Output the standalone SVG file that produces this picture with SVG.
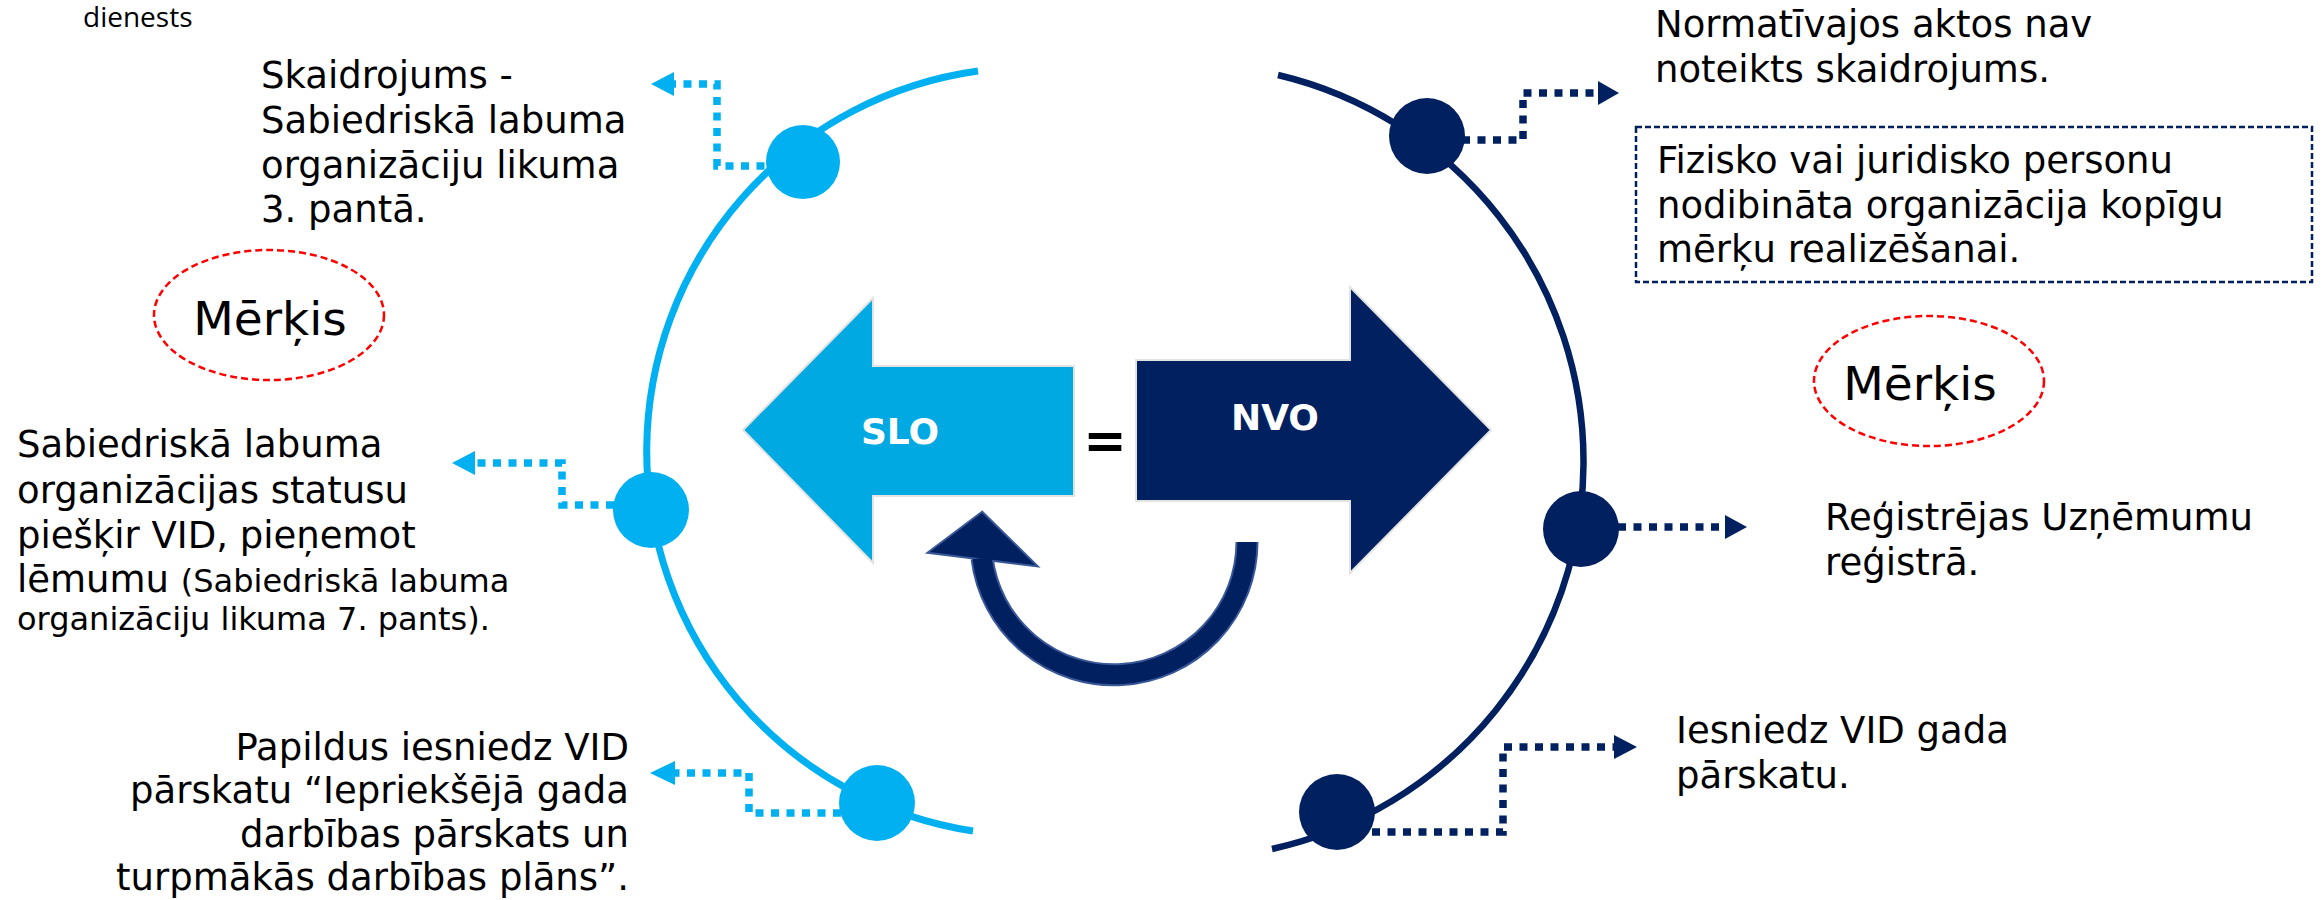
<svg xmlns="http://www.w3.org/2000/svg" width="2323" height="900" viewBox="0 0 2323 900">
<style>
.t{font-family:"DejaVu Sans",Verdana,sans-serif;font-size:37px;fill:#000}
.s{font-size:32px}
.g{font-family:"DejaVu Sans",Verdana,sans-serif;font-size:47px;fill:#000;text-anchor:middle}
.lbl{font-family:"DejaVu Sans",Verdana,sans-serif;font-weight:bold;font-size:36px;fill:#fff;text-anchor:middle}
.cy{fill:none;stroke:#00B0F0;stroke-width:7.5;stroke-dasharray:8 7.5}
.nv{fill:none;stroke:#002060;stroke-width:7.5;stroke-dasharray:8 7.5}
.goal{fill:none;stroke:#FF0000;stroke-width:2.5;stroke-dasharray:7 4}
</style>
<rect width="2323" height="900" fill="#fff"/>
<text x="83" y="27" font-family="'Open Sans',sans-serif" font-size="28" fill="#000">dienests</text>

<g id="arcs">
<path d="M 978 71 A 384 384 0 0 0 973 831" fill="none" stroke="#00B0F0" stroke-width="7"/>
<path d="M 1278 75 A 397 397 0 0 1 1272 849" fill="none" stroke="#002060" stroke-width="6.5"/>
</g>

<g id="slo-arrow">
<polygon points="743,430 873,298 873,366 1074,366 1074,496 873,496 873,563" fill="#00A9E2" stroke="#E3E3E3" stroke-width="2"/>
<text class="lbl" x="900" y="444">SLO</text>
</g>
<g id="equals">
<text x="1105" y="458" font-family="'DejaVu Sans',sans-serif" font-weight="bold" font-size="52" text-anchor="middle" fill="#000">=</text>
</g>
<g id="nvo-arrow">
<polygon points="1136,360 1350,360 1350,287 1491,430 1350,573 1350,501 1136,501" fill="#002060" stroke="#E3E3E3" stroke-width="2"/>
<text class="lbl" x="1275" y="430">NVO</text>
</g>
<g id="cycle-arrow">
<path d="M 1247 542 A 133 133 0 0 1 982 558" fill="none" stroke="#3A5898" stroke-width="23"/>
<polygon points="982,513 930,552 1035,565" fill="#3A5898" stroke="#3A5898" stroke-width="4" stroke-linejoin="miter"/>
<path d="M 1247 542 A 133 133 0 0 1 982 558" fill="none" stroke="#002060" stroke-width="19"/>
<polygon points="982,513 930,552 1035,565" fill="#002060"/>
</g>

<g id="connectors">
<polyline class="cy" points="780,166 717,166 717,84 674,84"/>
<polygon points="651,84 674,72 674,96" fill="#00B0F0"/>
<polyline class="cy" points="614,505 562,505 562,463 475,463"/>
<polygon points="452,463 475,451 475,475" fill="#00B0F0"/>
<polyline class="cy" points="841,813 749,813 749,773 675,773"/>
<polygon points="650,773 675,761 675,785" fill="#00B0F0"/>
<polyline class="nv" points="1462,140 1523,140 1523,93 1598,93"/>
<polygon points="1619,93 1598,81 1598,105" fill="#002060"/>
<polyline class="nv" points="1618,527 1725,527"/>
<polygon points="1747,527 1725,515 1725,539" fill="#002060"/>
<polyline class="nv" points="1372,832 1503,832 1503,747 1614,747"/>
<polygon points="1637,747 1614,735 1614,759" fill="#002060"/>
</g>

<g id="dot-slo-1"><circle cx="803" cy="162" r="37" fill="#00B0F0"/></g>
<g id="dot-slo-2"><circle cx="651" cy="510" r="38" fill="#00B0F0"/></g>
<g id="dot-slo-3"><circle cx="877" cy="803" r="38" fill="#00B0F0"/></g>
<g id="dot-nvo-1"><circle cx="1427" cy="136" r="38" fill="#002060"/></g>
<g id="dot-nvo-2"><circle cx="1581" cy="529" r="38" fill="#002060"/></g>
<g id="dot-nvo-3"><circle cx="1337" cy="812" r="38" fill="#002060"/></g>

<g id="goal-left">
<ellipse class="goal" cx="269" cy="315" rx="115" ry="65"/>
<text class="g" x="270" y="335">Mērķis</text>
</g>
<g id="goal-right">
<ellipse class="goal" cx="1929" cy="381" rx="115" ry="65"/>
<text class="g" x="1920" y="400">Mērķis</text>
</g>

<g id="text-slo-1">
<text class="t" x="261" y="88">Skaidrojums -</text>
<text class="t" x="261" y="133">Sabiedriskā labuma</text>
<text class="t" x="261" y="178">organizāciju likuma</text>
<text class="t" x="261" y="222">3. pantā.</text>
</g>
<g id="text-slo-2">
<text class="t" x="17" y="457">Sabiedriskā labuma</text>
<text class="t" x="17" y="503">organizācijas statusu</text>
<text class="t" x="17" y="548">piešķir VID, pieņemot</text>
<text class="t" x="17" y="592">lēmumu <tspan class="s">(Sabiedriskā labuma</tspan></text>
<text class="t s" x="17" y="630">organizāciju likuma 7. pants).</text>
</g>
<g id="text-slo-3">
<text class="t" x="629" y="760" text-anchor="end">Papildus iesniedz VID</text>
<text class="t" x="629" y="803" text-anchor="end">pārskatu “Iepriekšējā gada</text>
<text class="t" x="629" y="847" text-anchor="end">darbības pārskats un</text>
<text class="t" x="629" y="890" text-anchor="end">turpmākās darbības plāns”.</text>
</g>
<g id="text-nvo-1">
<text class="t" x="1655" y="37">Normatīvajos aktos nav</text>
<text class="t" x="1655" y="82">noteikts skaidrojums.</text>
</g>
<g id="box-nvo">
<rect x="1636" y="127" width="676" height="155" fill="none" stroke="#002060" stroke-width="2.5" stroke-dasharray="6 3"/>
<text class="t" x="1657" y="173">Fizisko vai juridisko personu</text>
<text class="t" x="1657" y="218">nodibināta organizācija kopīgu</text>
<text class="t" x="1657" y="262">mērķu realizēšanai.</text>
</g>
<g id="text-nvo-2">
<text class="t" x="1825" y="530">Reģistrējas Uzņēmumu</text>
<text class="t" x="1825" y="575">reģistrā.</text>
</g>
<g id="text-nvo-3">
<text class="t" x="1676" y="743">Iesniedz VID gada</text>
<text class="t" x="1676" y="788">pārskatu.</text>
</g>
</svg>
